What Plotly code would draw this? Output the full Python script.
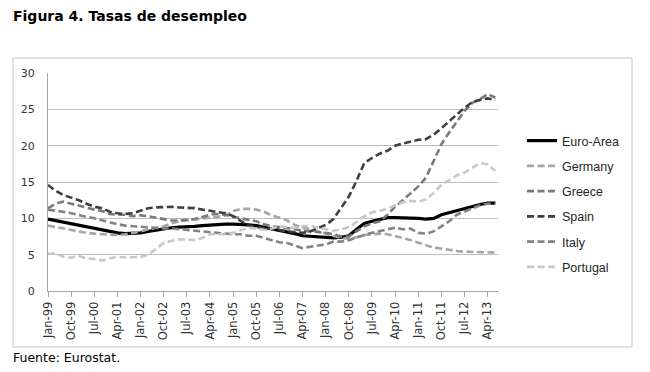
import plotly.graph_objects as go
import pandas as pd

# ---- data (quarterly readings, %), Jan-99 .. Jul-13 ----
dates = pd.date_range("1999-01-01", "2013-07-01", freq="3MS")

euro_area = [9.9, 9.7, 9.5, 9.3, 9.0, 8.8, 8.6, 8.4, 8.2, 8.0, 7.9, 7.9,
             8.0, 8.2, 8.4, 8.5, 8.7, 8.8, 8.8, 8.9, 9.0, 9.1, 9.1, 9.2,
             9.2, 9.2, 9.1, 9.0, 8.8, 8.6, 8.4, 8.2, 7.9, 7.6, 7.5, 7.4,
             7.3, 7.3, 7.4, 7.6, 8.5, 9.3, 9.6, 9.9, 10.1, 10.1, 10.1, 10.1,
             10.0, 9.9, 10.0, 10.5, 10.8, 11.1, 11.4, 11.7, 11.9, 12.1, 12.1]

germany = [9.0, 8.8, 8.6, 8.4, 8.2, 8.0, 7.9, 7.8, 7.7, 7.7, 7.8, 8.0,
           8.2, 8.5, 8.7, 8.9, 9.3, 9.6, 9.7, 9.8, 9.9, 10.1, 10.2, 10.4,
           11.0, 11.3, 11.3, 11.2, 10.9, 10.4, 10.1, 9.7, 9.1, 8.7, 8.5, 8.2,
           7.8, 7.5, 7.3, 7.2, 7.4, 7.7, 7.8, 7.9, 7.8, 7.6, 7.3, 7.0,
           6.7, 6.3, 6.0, 5.8, 5.6, 5.5, 5.4, 5.4, 5.4, 5.3, 5.3]

greece = [11.4, 12.0, 12.3, 12.0, 11.7, 11.5, 11.2, 11.0, 10.6, 10.5, 10.5, 10.3,
          10.4, 10.3, 10.1, 9.9, 9.7, 9.7, 9.8, 9.9, 10.2, 10.5, 10.6, 10.5,
          10.2, 10.0, 9.8, 9.6, 9.2, 8.9, 8.8, 8.7, 8.5, 8.3, 8.2, 8.2,
          8.0, 7.8, 7.5, 7.5, 8.2, 8.9, 9.3, 9.6, 10.5, 11.6, 12.5, 13.4,
          14.4, 15.6, 17.8, 20.2, 21.8, 23.3, 24.8, 25.9, 26.4, 27.1, 26.6]

spain = [14.6, 13.8, 13.2, 12.9, 12.5, 12.0, 11.6, 11.4, 10.9, 10.7, 10.6, 10.7,
         11.0, 11.4, 11.5, 11.6, 11.6, 11.5, 11.5, 11.4, 11.2, 11.0, 10.9, 10.7,
         10.3, 9.6, 9.0, 8.8, 8.7, 8.5, 8.4, 8.2, 8.1, 8.0, 8.2, 8.6,
         9.1, 9.9, 11.4, 13.0, 15.2, 17.6, 18.3, 18.9, 19.3, 20.0, 20.3, 20.6,
         20.8, 20.9, 21.5, 22.4, 23.4, 24.3, 25.2, 26.0, 26.3, 26.5, 26.3]

italy = [11.2, 11.1, 10.9, 10.7, 10.4, 10.2, 10.0, 9.7, 9.4, 9.2, 9.0, 8.9,
         8.8, 8.7, 8.6, 8.6, 8.6, 8.5, 8.4, 8.3, 8.2, 8.0, 7.9, 7.9,
         7.8, 7.8, 7.6, 7.6, 7.3, 6.9, 6.7, 6.6, 6.2, 5.9, 6.1, 6.3,
         6.4, 6.8, 6.8, 7.0, 7.4, 7.7, 8.0, 8.3, 8.5, 8.7, 8.5, 8.6,
         8.0, 7.9, 8.2, 8.9, 9.6, 10.5, 10.9, 11.3, 11.8, 12.0, 12.0]

portugal = [5.1, 5.2, 4.7, 4.6, 4.8, 4.5, 4.4, 4.2, 4.5, 4.7, 4.6, 4.6,
            4.7, 5.0, 5.8, 6.6, 6.9, 7.1, 7.1, 7.0, 7.3, 7.8, 7.8, 7.8,
            8.0, 8.3, 8.7, 8.6, 8.4, 8.6, 8.9, 8.8, 8.7, 8.9, 9.0, 8.7,
            8.5, 8.3, 8.5, 8.8, 9.5, 10.3, 10.8, 11.0, 11.3, 11.8, 12.2, 12.4,
            12.3, 12.6, 13.5, 14.6, 15.3, 15.9, 16.3, 17.0, 17.6, 17.4, 16.5]

series_names = ["Euro-Area", "Germany", "Greece", "Spain", "Italy", "Portugal"]
series_values = [euro_area, germany, greece, spain, italy, portugal]
series_colors = ["#000000", "#a6a6a6", "#7a7a7a", "#3f3f3f", "#838383", "#c8c8c8"]

tick_dates = pd.date_range("1999-01-01", "2013-04-01", freq="9MS")
tick_labels = ["Jan-99", "Oct-99", "Jul-00", "Apr-01", "Jan-02", "Oct-02", "Jul-03",
               "Apr-04", "Jan-05", "Oct-05", "Jul-06", "Apr-07", "Jan-08", "Oct-08",
               "Jul-09", "Apr-10", "Jan-11", "Oct-11", "Jul-12", "Apr-13"]

# ---- layout geometry (target page pixels; page body has an 8px margin) ----
OFF = 8
W, H = 650 - OFF, 372 - OFF
PL, PR, PT, PB = 48 - OFF, 498 - OFF, 73 - OFF, 291 - OFF

def px(x):
    return (x - OFF - PL) / (PR - PL)

def py(y):
    return (PB - (y - OFF)) / (PB - PT)

fig = go.Figure()
for name, vals, col in zip(series_names, series_values, series_colors):
    solid = name == "Euro-Area"
    fig.add_trace(go.Scatter(
        x=dates, y=vals, mode="lines", name=name, legendgroup=name,
        line=dict(color=col, width=3.2 if solid else 2.6,
                  dash="solid" if solid else "7px,3.5px"),
    ))

fig.update_layout(
    width=W, height=H,
    margin=dict(l=PL, r=W - PR, t=PT, b=H - PB),
    paper_bgcolor="white", plot_bgcolor="white",
    font=dict(family="DejaVu Sans", color="#333333"),
    showlegend=True,
    legend=dict(x=px(522), xanchor="left", y=py(126), yanchor="top",
                font=dict(family="Liberation Sans", size=12.5, color="#262626"),
                tracegroupgap=6, bgcolor="rgba(0,0,0,0)"),
    xaxis=dict(range=[pd.Timestamp("1999-01-01"), pd.Timestamp("2013-08-01")],
               tickvals=tick_dates, ticktext=tick_labels, tickangle=-90,
               showgrid=False, showline=True, linecolor="#a6a6a6", linewidth=1,
               ticks="outside", ticklen=5, tickcolor="#a6a6a6",
               tickfont=dict(family="DejaVu Sans", size=11.5, color="#333333")),
    yaxis=dict(range=[0, 30], dtick=5, showgrid=True, gridcolor="#bdbdbd",
               gridwidth=1, showline=True, linecolor="#a6a6a6", linewidth=1,
               zeroline=False, ticks="", ticklabelstandoff=10,
               tickfont=dict(family="DejaVu Sans", size=11, color="#333333")),
    shapes=[dict(type="rect", xref="paper", yref="paper",
                 x0=px(13), x1=px(632), y0=py(347), y1=py(58),
                 line=dict(color="#c4c4c4", width=1), layer="below")],
    annotations=[
        dict(text="<b>Figura 4. Tasas de desempleo</b>", xref="paper", yref="paper",
             x=px(11), y=py(16), xanchor="left", yanchor="middle", showarrow=False,
             font=dict(family="DejaVu Sans", size=14, color="#000000")),
        dict(text="Fuente: Eurostat.", xref="paper", yref="paper",
             x=px(11), y=py(357), xanchor="left", yanchor="middle", showarrow=False,
             font=dict(family="DejaVu Sans", size=12.5, color="#000000")),
    ],
)

fig.write_html("out.html")
